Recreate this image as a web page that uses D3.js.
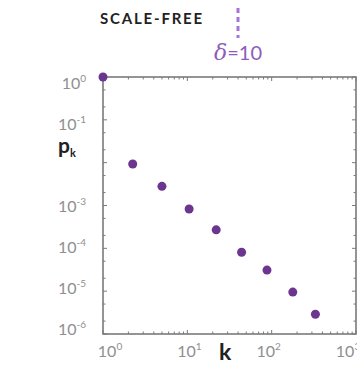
<!DOCTYPE html>
<html>
<head>
<meta charset="utf-8">
<script src="https://cdn.jsdelivr.net/npm/d3@7"></script>
<style>
  body { margin: 0; background: #fff; }
  svg { display: block; }
  text { font-family: Lato, "Open Sans", sans-serif; }
</style>
</head>
<body>
<svg width="357" height="369"></svg>
<script>
// --- Data ---
const kValues = [1, 2.25, 5.0, 10.5, 22, 44, 88, 178, 330];
const pValues = [1, 9.3e-3, 2.8e-3, 8.3e-4, 2.7e-4, 8.1e-5, 3.1e-5, 9.5e-6, 2.9e-6];
const xExponents = [0, 1, 2, 3];
const yExponents = [0, -1, -3, -4, -5, -6];   // 10^-2 slot holds the p_k label
const titleText = 'SCALE-FREE';
const deltaText = '=10';

const svg = d3.select('svg');

// --- Scales ---
const x = d3.scaleLog().domain([1, 1000]).range([103, 356]);
const y = d3.scaleLog().domain([1, 1e-6]).range([77, 334]);
// label positions in the source are hand placed, a bit off the ticks
const xLab = d3.scaleLog().domain([1, 1000]).range([110, 348]);
const yLab = d3.scaleLog().domain([1, 1e-6]).range([83, 329]);

const axisColor = '#7a7a7a';
const purple = '#6b3590';

// --- Frame ---
svg.append('rect')
  .attr('x', x.range()[0])
  .attr('y', y.range()[0])
  .attr('width', x.range()[1] - x.range()[0])
  .attr('height', y.range()[1] - y.range()[0])
  .attr('fill', 'none')
  .attr('stroke', axisColor)
  .attr('stroke-width', 1.6);

// --- Ticks (inward) ---
const xTicks = x.ticks();
const yTicks = y.ticks().filter(d => {
  const m = Math.round(d / Math.pow(10, Math.floor(Math.log10(d) + 1e-9)));
  return m === 1 || m === 2 || m === 5;
});
const isDecade = d => Math.abs(Math.log10(d) - Math.round(Math.log10(d))) < 1e-6;

const ticks = svg.append('g').attr('stroke', axisColor).attr('stroke-width', 1);
xTicks.forEach(d => {
  const len = isDecade(d) ? 4 : 2.5;
  [[y.range()[1], -1], [y.range()[0], 1]].forEach(([y0, dir]) => {
    ticks.append('line')
      .attr('x1', x(d)).attr('x2', x(d))
      .attr('y1', y0).attr('y2', y0 + dir * len);
  });
});
yTicks.forEach(d => {
  const len = isDecade(d) ? 4 : 2.5;
  [[x.range()[0], 1], [x.range()[1], -1]].forEach(([x0, dir]) => {
    ticks.append('line')
      .attr('x1', x0).attr('x2', x0 + dir * len)
      .attr('y1', y(d)).attr('y2', y(d));
  });
});

// --- Tick labels ---
const tickLab = svg.append('g').attr('fill', '#8f8f8f').attr('font-size', 16);

xExponents.forEach(e => {
  const t = tickLab.append('text')
    .attr('x', xLab(Math.pow(10, e)))
    .attr('y', 357)
    .attr('text-anchor', 'middle');
  t.append('tspan').text('10');
  t.append('tspan').attr('dy', -7).attr('font-size', 10).text(e);
});

yExponents.forEach(e => {
  const t = tickLab.append('text')
    .attr('x', 86)
    .attr('y', yLab(Math.pow(10, e)) + 6)
    .attr('text-anchor', 'end');
  t.append('tspan').text('10');
  t.append('tspan').attr('dy', -7).attr('font-size', 10).text(e === 0 ? '0' : '-' + Math.abs(e));
});

// --- Axis titles ---
svg.append('text')
  .attr('x', 219).attr('y', 360)
  .attr('font-size', 23).attr('font-weight', 700).attr('fill', '#222')
  .text('k');

const pk = svg.append('text')
  .attr('x', 58).attr('y', 153)
  .attr('font-size', 21).attr('font-weight', 700).attr('fill', '#222');
pk.append('tspan').text('p');
pk.append('tspan').attr('dy', 4).attr('font-size', 11).text('k');

// --- Header ---
svg.append('text')
  .attr('x', 100).attr('y', 24)
  .attr('font-size', 15).attr('font-weight', 700).attr('fill', '#222')
  .attr('letter-spacing', 1.8)
  .text(titleText);

svg.append('line')
  .attr('x1', 238).attr('x2', 238)
  .attr('y1', 8).attr('y2', 38)
  .attr('stroke', '#a873d6')
  .attr('stroke-width', 3)
  .attr('stroke-dasharray', '5,4');

const delta = svg.append('text')
  .attr('x', 214).attr('y', 60)
  .attr('fill', '#8d5cbd');
delta.append('tspan').attr('font-family', 'DejaVu Serif, serif').attr('font-style', 'italic').attr('font-size', 22).text('δ');
delta.append('tspan').attr('font-size', 20).text(deltaText);

// --- Points ---
svg.append('g')
  .selectAll('circle')
  .data(kValues.map((k, i) => [k, pValues[i]]))
  .join('circle')
  .attr('cx', d => x(d[0]))
  .attr('cy', d => y(d[1]))
  .attr('r', 4.5)
  .attr('fill', purple);
</script>
</body>
</html>
